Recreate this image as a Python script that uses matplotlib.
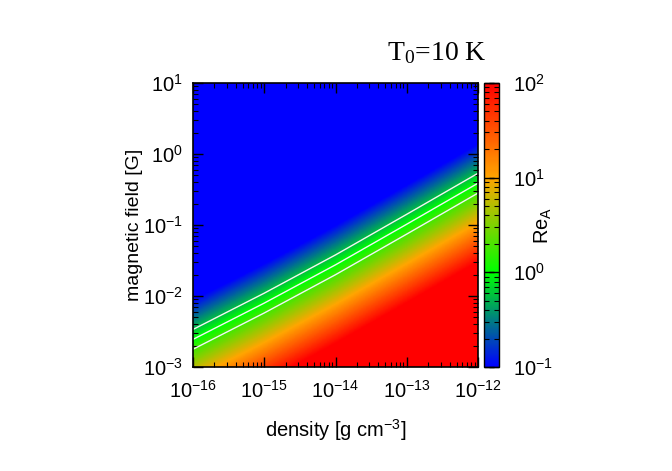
import numpy as np
import matplotlib
matplotlib.use('Agg')
import matplotlib.pyplot as plt
from matplotlib.colors import LinearSegmentedColormap

plt.rcParams['font.family'] = ['Liberation Sans', 'DejaVu Sans']
plt.rcParams['mathtext.fontset'] = 'custom'
plt.rcParams['mathtext.rm'] = 'Liberation Serif'
plt.rcParams['mathtext.sf'] = 'Liberation Sans'
plt.rcParams['mathtext.it'] = 'Liberation Serif:italic'

# grid (log10 values)
log_rho = [-16, -15, -14, -13, -12]
log_B = [-3.0, -2.5, -2.0, -1.5, -1.0, -0.5, 0.0, 0.5, 1.0]
# log10(Re_A), rows follow log_B, columns follow log_rho
log_ReA = [
    [0.70, 1.62, 2.59, 3.62, 4.66],
    [-0.20, 0.72, 1.69, 2.72, 3.76],
    [-1.10, -0.18, 0.79, 1.82, 2.86],
    [-2.00, -1.08, -0.11, 0.92, 1.96],
    [-2.90, -1.98, -1.01, 0.02, 1.06],
    [-3.80, -2.88, -1.91, -0.88, 0.16],
    [-4.70, -3.78, -2.81, -1.78, -0.74],
    [-5.60, -4.68, -3.71, -2.68, -1.64],
    [-6.50, -5.58, -4.61, -3.58, -2.54],
]
contour_levels = [0.56, 1.0, 1.78]   # Re_A of the white lines
x_decades = [-16, -15, -14, -13, -12]
y_decades = [-3, -2, -1, 0, 1]
cb_decades = [-1, 0, 1, 2]

cmap = LinearSegmentedColormap.from_list('gp', ['#0000ff', '#00ff00', '#ffa500', '#ff0000'])

fig = plt.figure(figsize=(6.72, 4.71), dpi=100)
ax = fig.add_axes([193/672, 1-367/471, 285/672, 284/471])
cax = fig.add_axes([484/672, 1-367/471, 15/672, 284/471])

Z = np.array(log_ReA)
dx = 0.5 * (log_rho[1] - log_rho[0])
dy = 0.5 * (log_B[1] - log_B[0])
im = ax.imshow(Z, origin='lower', cmap=cmap, vmin=-1, vmax=2, aspect='auto',
               interpolation='bilinear', interpolation_stage='data',
               extent=[log_rho[0]-dx, log_rho[-1]+dx, log_B[0]-dy, log_B[-1]+dy])
ax.contour(log_rho, log_B, Z, levels=np.log10(contour_levels), colors='#f4f4f4',
           linewidths=1.0, linestyles='solid')
ax.set_xlim(-16, -12)
ax.set_ylim(-3, 1)

def minor_pos(decades):
    out = []
    for d in decades[:-1]:
        out += [d + np.log10(k) for k in range(2, 10)]
    return out

def dec_labels(decades):
    return [r'$\mathsf{10^{%d}}$' % d for d in decades]

ax.set_xticks(x_decades)
ax.set_xticklabels(dec_labels(x_decades))
ax.set_xticks(minor_pos(x_decades), minor=True)
ax.set_yticks(y_decades)
ax.set_yticklabels(dec_labels(y_decades))
ax.set_yticks(minor_pos(y_decades), minor=True)
ax.tick_params(which='both', direction='in', top=True, right=True, labelsize=14.5, color='black')
ax.tick_params(which='major', length=7, width=1.0)
ax.tick_params(which='minor', length=3.8, width=0.8)
ax.tick_params(axis='x', pad=9)
ax.tick_params(axis='y', pad=7)
for s in ax.spines.values():
    s.set_linewidth(1.2)

ax.set_xlabel(r'density [g cm$\mathsf{^{-3}}$]', fontsize=14.5)
ax.xaxis.set_label_coords(0.5, -0.175)
ax.set_ylabel('magnetic field [G]', fontsize=14)
ax.yaxis.set_label_coords(-0.175, 0.5)

cb = fig.colorbar(im, cax=cax)
cb.set_ticks(cb_decades)
cb.set_ticklabels(dec_labels(cb_decades))
cax.set_yticks(minor_pos(cb_decades), minor=True)
cax.tick_params(which='both', direction='in', left=True, right=True, labelsize=14.5)
cax.tick_params(which='major', length=7, width=1.0, pad=10)
cax.tick_params(which='minor', length=3.8, width=0.8)
cb.outline.set_linewidth(1.0)
cb.set_label(r'$\mathsf{Re_A}$', fontsize=14.5, rotation=90)
cax.yaxis.set_label_coords(3.25, 0.5)

fig.text(487/672, 1-60/471, r'T$_0$=10 K', ha='right', va='baseline',
         fontsize=20, family=['Liberation Serif', 'DejaVu Serif'])

fig.savefig('out.png', dpi=100)
